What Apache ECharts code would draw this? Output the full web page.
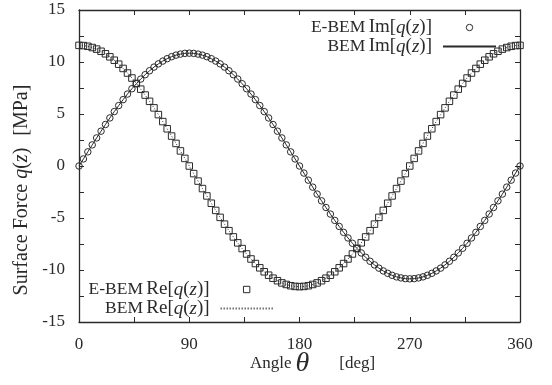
<!DOCTYPE html>
<html>
<head>
<meta charset="utf-8">
<script src="https://cdn.jsdelivr.net/npm/echarts@6/dist/echarts.min.js"></script>
<style>
  html, body { margin: 0; padding: 0; background: #fff; }
  #chart { width: 552px; height: 385px; }
</style>
</head>
<body>
<div id="chart"></div>
<script>
// angle samples [deg]
const angles = [
  0, 3.6, 7.2, 10.8, 14.4, 18, 21.6, 25.2, 28.8, 32.4, 36, 39.6, 43.2, 46.8, 50.4, 54, 57.6, 61.2, 64.8, 68.4, 72, 75.6, 79.2, 82.8, 86.4,
  90, 93.6, 97.2, 100.8, 104.4, 108, 111.6, 115.2, 118.8, 122.4, 126, 129.6, 133.2, 136.8, 140.4, 144, 147.6, 151.2, 154.8, 158.4, 162, 165.6, 169.2, 172.8, 176.4,
  180, 183.6, 187.2, 190.8, 194.4, 198, 201.6, 205.2, 208.8, 212.4, 216, 219.6, 223.2, 226.8, 230.4, 234, 237.6, 241.2, 244.8, 248.4, 252, 255.6, 259.2, 262.8, 266.4,
  270, 273.6, 277.2, 280.8, 284.4, 288, 291.6, 295.2, 298.8, 302.4, 306, 309.6, 313.2, 316.8, 320.4, 324, 327.6, 331.2, 334.8, 338.4, 342, 345.6, 349.2, 352.8, 356.4,
  360
];

// Im[q(z)] [MPa]
const imValues = [
  0, 0.68, 1.36, 2.03, 2.70, 3.35, 3.99, 4.62, 5.23, 5.81, 6.38, 6.92, 7.43, 7.91, 8.36, 8.78, 9.16, 9.51, 9.82, 10.09, 10.32, 10.51, 10.66, 10.76, 10.83,
  10.85, 10.83, 10.76, 10.66, 10.51, 10.32, 10.09, 9.82, 9.51, 9.16, 8.78, 8.36, 7.91, 7.43, 6.92, 6.38, 5.81, 5.23, 4.62, 3.99, 3.35, 2.70, 2.03, 1.36, 0.68,
  0, -0.68, -1.36, -2.03, -2.70, -3.35, -3.99, -4.62, -5.23, -5.81, -6.38, -6.92, -7.43, -7.91, -8.36, -8.78, -9.16, -9.51, -9.82, -10.09, -10.32, -10.51, -10.66, -10.76, -10.83,
  -10.85, -10.83, -10.76, -10.66, -10.51, -10.32, -10.09, -9.82, -9.51, -9.16, -8.78, -8.36, -7.91, -7.43, -6.92, -6.38, -5.81, -5.23, -4.62, -3.99, -3.35, -2.70, -2.03, -1.36, -0.68,
  0
];

// Re[q(z)] [MPa]
const reValues = [
  11.60, 11.58, 11.51, 11.39, 11.24, 11.03, 10.79, 10.50, 10.17, 9.79, 9.38, 8.94, 8.46, 7.94, 7.39, 6.82, 6.22, 5.59, 4.94, 4.27, 3.58, 2.88, 2.17, 1.45, 0.73,
  0, -0.73, -1.45, -2.17, -2.88, -3.58, -4.27, -4.94, -5.59, -6.22, -6.82, -7.39, -7.94, -8.46, -8.94, -9.38, -9.79, -10.17, -10.50, -10.79, -11.03, -11.24, -11.39, -11.51, -11.58,
  -11.60, -11.58, -11.51, -11.39, -11.24, -11.03, -10.79, -10.50, -10.17, -9.79, -9.38, -8.94, -8.46, -7.94, -7.39, -6.82, -6.22, -5.59, -4.94, -4.27, -3.58, -2.88, -2.17, -1.45, -0.73,
  0, 0.73, 1.45, 2.17, 2.88, 3.58, 4.27, 4.94, 5.59, 6.22, 6.82, 7.39, 7.94, 8.46, 8.94, 9.38, 9.79, 10.17, 10.50, 10.79, 11.03, 11.24, 11.39, 11.51, 11.58,
  11.60
];

const xTicks = [0, 90, 180, 270, 360];
const yTicks = [-15, -10, -5, 0, 5, 10, 15];

const serif = '"Liberation Serif", "DejaVu Serif", serif';
const ink = '#2a2a2a';

const pair = (xs, ys) => xs.map((x, i) => [x, ys[i]]);

// legend label: "E-BEM Im[q(z)]" with q and z in italic
const legendLabel = (name) => {
  const [tag, part] = name.split(' ');
  return `{tag|${tag}} {m|${part}[}{i|q}{m|(}{i|z}{m|)}{end|]}`;
};
const legendRich = {
  tag: { fontFamily: serif, fontSize: 17.5, lineHeight: 18, color: ink, width: 55, align: 'right' },
  m: { fontFamily: serif, fontSize: 19, lineHeight: 18, color: ink },
  i: { fontFamily: serif, fontSize: 19, lineHeight: 18, color: ink, fontStyle: 'italic' },
  end: { fontFamily: serif, fontSize: 19, lineHeight: 18, color: ink, padding: [0, 6, 0, 0] }
};
const markerStyle = { color: 'rgba(0,0,0,0)', borderColor: ink, borderWidth: 1 };
const hiddenMarker = { color: 'rgba(0,0,0,0)', borderColor: 'rgba(0,0,0,0)', borderWidth: 0, opacity: 0 };

const chart = echarts.init(document.getElementById('chart'), null, { renderer: 'canvas' });

const xAxisBase = {
  type: 'value',
  min: 0,
  max: 360,
  interval: 90,
  axisLine: { show: true, onZero: false, lineStyle: { color: ink, width: 1.3 } },
  axisTick: { show: true, inside: true, length: 5, lineStyle: { color: ink, width: 1 } },
  minorTick: { show: true, splitNumber: 2, length: 5, lineStyle: { color: ink, width: 1 } },
  splitLine: { show: false }
};
const yAxisBase = {
  type: 'value',
  min: -15,
  max: 15,
  interval: 5,
  axisLine: { show: true, onZero: false, lineStyle: { color: ink, width: 1.3 } },
  axisTick: { show: true, inside: true, length: 5, lineStyle: { color: ink, width: 1 } },
  minorTick: { show: true, splitNumber: 2, length: 5, lineStyle: { color: ink, width: 1 } },
  splitLine: { show: false }
};

const option = {
  animation: false,
  backgroundColor: '#fff',
  grid: { left: 79, right: 32, top: 10, bottom: 63, outerBoundsMode: 'none' },
  legend: [
    {
      orient: 'vertical',
      align: 'right',
      right: 55,
      top: 18,
      padding: 0,
      itemGap: 0,
      itemWidth: 53,
      itemHeight: 8,
      selectedMode: false,
      data: [
        { name: 'E-BEM Im', itemStyle: markerStyle },
        { name: 'BEM Im', itemStyle: hiddenMarker }
      ],
      formatter: legendLabel,
      textStyle: { lineHeight: 18, rich: legendRich }
    },
    {
      orient: 'vertical',
      align: 'right',
      left: 88,
      top: 280,
      padding: 0,
      itemGap: 0,
      itemWidth: 52,
      itemHeight: 8,
      selectedMode: false,
      data: [
        { name: 'E-BEM Re', itemStyle: markerStyle },
        { name: 'BEM Re', itemStyle: hiddenMarker }
      ],
      formatter: legendLabel,
      textStyle: { lineHeight: 18, rich: legendRich }
    }
  ],
  xAxis: [
    Object.assign({}, xAxisBase, {
      position: 'bottom',
      name: '{a|Angle}{s1|}{t|θ}{s2|}{a|[deg]}',
      nameLocation: 'middle',
      nameGap: 31,
      nameMoveOverlap: false,
      nameTextStyle: {
        padding: [0, 0, 0, 26],
        rich: {
          a: { fontFamily: serif, fontSize: 17, lineHeight: 22, color: ink },
          t: { fontFamily: serif, fontSize: 28, lineHeight: 22, fontStyle: 'italic', color: ink },
          s1: { width: 4, lineHeight: 22 },
          s2: { width: 30, lineHeight: 22 }
        }
      },
      axisLabel: {
        margin: 14,
        fontFamily: serif,
        fontSize: 17,
        color: ink,
        customValues: xTicks
      }
    }),
    Object.assign({}, xAxisBase, {
      position: 'top',
      axisLabel: { show: false }
    })
  ],
  yAxis: [
    Object.assign({}, yAxisBase, {
      position: 'left',
      name: '{a|Surface Force }{i|q}{a|(}{i|z}{a|)}{g|}{a|[MPa]}',
      nameLocation: 'middle',
      nameGap: 39,
      nameTextStyle: {
        padding: [0, 48, 0, 0],
        rich: {
          a: { fontFamily: serif, fontSize: 20, color: ink },
          i: { fontFamily: serif, fontSize: 20, fontStyle: 'italic', color: ink },
          g: { width: 12 }
        }
      },
      axisLabel: {
        margin: 14,
        fontFamily: serif,
        fontSize: 17,
        color: ink,
        customValues: yTicks
      }
    }),
    Object.assign({}, yAxisBase, {
      position: 'right',
      axisLabel: { show: false }
    })
  ],
  series: [
    {
      name: 'BEM Im',
      type: 'line',
      data: pair(angles, imValues),
      showSymbol: false,
      symbol: 'none',
      lineStyle: { color: ink, width: 1 },
      itemStyle: { color: ink }
    },
    {
      name: 'BEM Re',
      type: 'line',
      data: pair(angles, reValues),
      showSymbol: false,
      symbol: 'none',
      lineStyle: { color: ink, width: 1, type: [1, 2] },
      itemStyle: { color: ink }
    },
    {
      name: 'E-BEM Im',
      type: 'line',
      data: pair(angles, imValues),
      symbol: 'circle',
      symbolSize: 6.5,
      clip: false,
      lineStyle: { opacity: 0 },
      itemStyle: markerStyle
    },
    {
      name: 'E-BEM Re',
      type: 'line',
      data: pair(angles, reValues),
      symbol: 'rect',
      symbolSize: 6.5,
      clip: false,
      lineStyle: { opacity: 0 },
      itemStyle: markerStyle
    }
  ]
};

chart.setOption(option);
</script>
</body>
</html>
